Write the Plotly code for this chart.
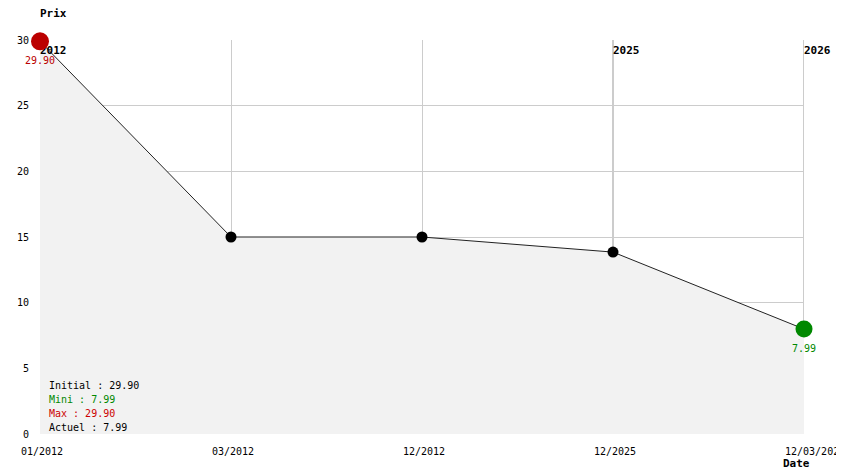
import plotly.graph_objects as go

# price history
dates = ['01/2012', '03/2012', '12/2012', '12/2025', '12/03/2026']
prices = [29.90, 15.00, 15.00, 13.85, 7.99]
years = ['2012', '2025', '2026']
year_pos = [0, 3, 4]
stats_labels = ['Initial', 'Mini', 'Max', 'Actuel']
stats_values = [29.90, 7.99, 29.90, 7.99]
stats_colors = ['black', '#008800', '#cc0000', 'black']

FONT = 'DejaVu Sans Mono'
idx = list(range(len(dates)))
y_top = 30

# plot height in pixels (used to nudge the year labels down a few px)
PLOT_H = 394
px_y = y_top / PLOT_H

fig = go.Figure()

# line + fill
fig.add_trace(go.Scatter(
    x=idx, y=prices,
    mode='lines',
    line=dict(color='#222222', width=1),
    fill='tozeroy',
    fillcolor='#f2f2f2',
    hoverinfo='skip',
    showlegend=False
))

# year labels (as a trace so the big marker covers the first one)
fig.add_trace(go.Scatter(
    x=year_pos, y=[y_top - 6 * px_y] * len(years),
    mode='text',
    text=[f'<b>{yr}</b>' for yr in years],
    textposition='bottom right',
    textfont=dict(size=11, color='black', family=FONT),
    cliponaxis=False,
    hoverinfo='skip',
    showlegend=False
))

# middle points
fig.add_trace(go.Scatter(
    x=idx[1:-1], y=prices[1:-1],
    mode='markers',
    marker=dict(color='black', size=11),
    cliponaxis=False,
    showlegend=False,
    hovertemplate='%{text}<br>%{y:.2f}<extra></extra>',
    text=dates[1:-1]
))

# first point (max) and last point (min / current)
fig.add_trace(go.Scatter(
    x=[idx[0]], y=[prices[0]],
    mode='markers',
    marker=dict(color='#bb0000', size=18),
    cliponaxis=False,
    showlegend=False
))
fig.add_trace(go.Scatter(
    x=[idx[-1]], y=[prices[-1]],
    mode='markers',
    marker=dict(color='#008800', size=17),
    cliponaxis=False,
    showlegend=False
))
for pos, c in ((idx[0], '#bb0000'), (idx[-1], '#008800')):
    fig.add_annotation(x=pos, y=prices[pos], xref='x', yref='y',
                       text=f'{prices[pos]:.2f}',
                       showarrow=False, xanchor='center', yanchor='middle',
                       yshift=-19,
                       font=dict(size=10, color=c, family=FONT))

# year separators
for pos in year_pos:
    fig.add_shape(type='line', xref='x', yref='y', x0=pos, x1=pos, y0=0, y1=y_top,
                  line=dict(color='#999999', width=1), layer='below')

# date labels, left aligned a bit before each point
for pos, d in zip(idx, dates):
    fig.add_annotation(x=pos, y=0, xref='x', yref='y', text=d,
                       showarrow=False, xanchor='left', yanchor='middle',
                       xshift=-21, yshift=-17,
                       font=dict(size=10, color='black', family=FONT))

# stats box, one line each
for i, (lab, v, c) in enumerate(zip(stats_labels, stats_values, stats_colors)):
    fig.add_annotation(x=0, y=0, xref='paper', yref='paper',
                       text=f'{lab} : {v:.2f}',
                       showarrow=False, xanchor='left', yanchor='middle',
                       xshift=7, yshift=49 - 14 * i,
                       font=dict(size=10, color=c, family=FONT))

fig.add_annotation(x=0, y=1, xref='paper', yref='paper', text='<b>Prix</b>',
                   showarrow=False, xanchor='left', yanchor='bottom', yshift=18,
                   xshift=-2,
                   font=dict(size=11, color='black', family=FONT))
fig.add_annotation(x=1, y=0, xref='paper', yref='paper', text='<b>Date</b>',
                   showarrow=False, xanchor='left', yanchor='middle', yshift=-29,
                   xshift=-23,
                   font=dict(size=11, color='black', family=FONT))

# page body has an 8px margin, so shift everything up/left by 8px
fig.update_layout(
    width=836, height=466,
    margin=dict(l=32, r=40, t=32, b=40),
    plot_bgcolor='white',
    paper_bgcolor='white',
    font=dict(family=FONT, size=10, color='black'),
    showlegend=False
)

fig.update_xaxes(
    range=[0, 4],
    tickvals=idx,
    showticklabels=False,
    showgrid=True,
    gridcolor='#cccccc',
    zeroline=False,
    showline=False,
    ticks='',
    automargin=False
)
fig.update_yaxes(
    range=[0, y_top],
    dtick=5,
    showgrid=True,
    gridcolor='#cccccc',
    zeroline=False,
    showline=False,
    ticks='',
    ticklabelstandoff=10,
    automargin=False,
    tickfont=dict(size=10, family=FONT, color='black')
)

fig.write_html('out.html')
